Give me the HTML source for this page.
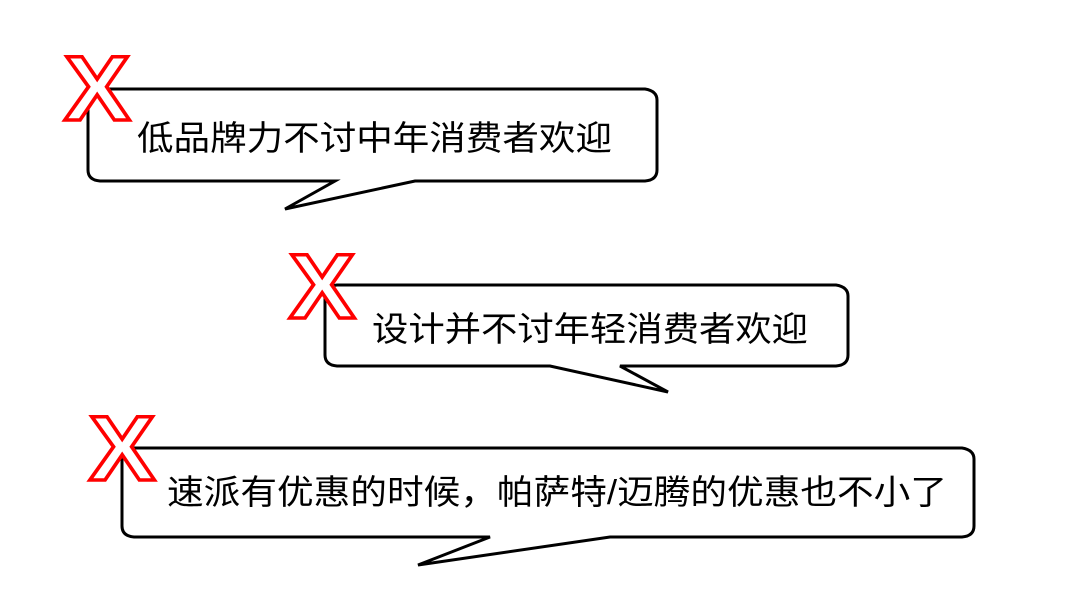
<!DOCTYPE html>
<html><head><meta charset="utf-8"><style>
html,body{margin:0;padding:0;background:#fff;}
svg{display:block;}
.t{font-family:"Liberation Sans","Noto Sans CJK SC",sans-serif;font-size:34px;fill:#000;}
.x{font-family:"Liberation Sans",sans-serif;font-weight:bold;font-size:92px;fill:#fff;stroke:#f00;stroke-width:3.5;}
.b{fill:#fff;stroke:#000;stroke-width:3;stroke-linejoin:miter;}
</style></head><body>
<svg width="1080" height="600" viewBox="0 0 1080 600">
<path class="b" d="M100,89 L645,89 Q657,91 657,100 L657,170 Q657,180 645,181 L415,181 L285,209 L335,181 L100,181 Q88,180 88,170 L88,100 Q88,90 100,89 Z"/>
<text class="x" x="0" y="0" transform="translate(64,120) scale(1.08,1)">X</text>
<text class="t" x="137" y="150" textLength="475" lengthAdjust="spacingAndGlyphs">低品牌力不讨中年消费者欢迎</text>

<path class="b" d="M337,285 L836,285 Q848,287 848,296 L848,355 Q848,365 836,366 L620,366 L668,392 L550,366 L337,366 Q325,365 325,355 L325,296 Q325,286 337,285 Z"/>
<text class="x" x="0" y="0" transform="translate(289,318) scale(1.08,1)">X</text>
<text class="t" x="372" y="341" textLength="436" lengthAdjust="spacingAndGlyphs">设计并不讨年轻消费者欢迎</text>

<path class="b" d="M134,448 L962,448 Q974,450 974,459 L974,526 Q974,536 962,537 L610,537 L418,565 L490,537 L134,537 Q122,536 122,526 L122,459 Q122,449 134,448 Z"/>
<text class="x" x="0" y="0" transform="translate(89,480) scale(1.08,1)">X</text>
<text class="t" x="167" y="504" textLength="780" lengthAdjust="spacingAndGlyphs">速派有优惠的时候，帕萨特/迈腾的优惠也不小了</text>
</svg>
</body></html>
